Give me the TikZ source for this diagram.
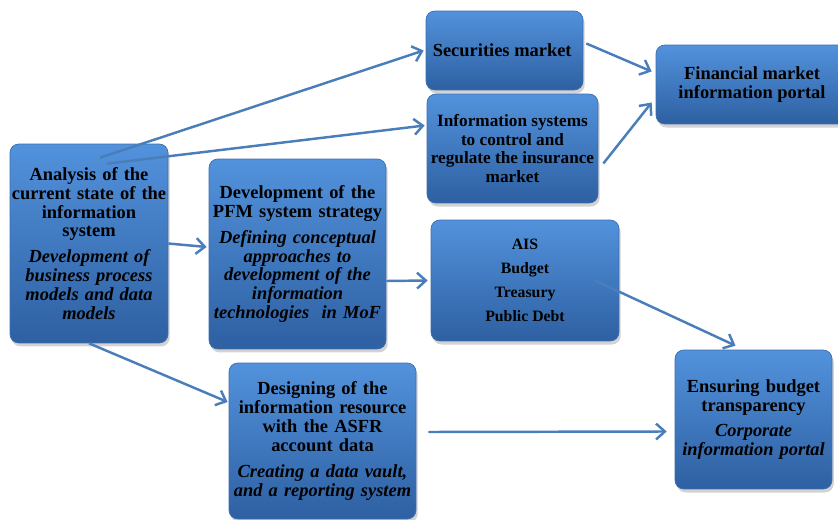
\documentclass[tikz,border=0pt]{standalone}
\usepackage{fontspec}
\setmainfont{Liberation Serif}
\usepackage{xcolor}
\usetikzlibrary{arrows.meta, positioning, shadows}

\definecolor{boxtop}{RGB}{82,146,220}
\definecolor{boxbottom}{RGB}{46,96,162}
\definecolor{boxline}{RGB}{60,110,175}
\definecolor{arrowblue}{RGB}{74,126,187}

\begin{document}
\begin{tikzpicture}[
    x=0.02cm, y=-0.02cm,
    block/.style={
        rectangle,
        rounded corners=5pt,
        draw=boxline,
        thin,
        top color=boxtop,
        bottom color=boxbottom,
        drop shadow={shadow xshift=1pt, shadow yshift=-2pt, opacity=0.35},
        align=center,
        inner sep=0pt,
        font=\fontsize{10.5}{10.7}\selectfont\bfseries
    },
    link/.style={
        -{Straight Barb[length=5pt, width=9pt]},
        draw=arrowblue,
        line width=1.4pt
    }
]
    \useasboundingbox (0,0) rectangle (838,520);

    % 1. Analysis (Left)
    \node (analysis) [block, minimum width=3.16cm, minimum height=3.98cm, text width=3.1cm] at (89,243.5) {
        Analysis of the\\
        current state of the\\
        information\\
        system\\[4pt]
        \itshape
        Development of\\
        business process\\
        models and data\\
        models
    };

    % 2. Strategy (Middle)
    \node (strategy) [block, minimum width=3.54cm, minimum height=3.80cm, text width=3.5cm] at (297.5,254) {
        Development of the\\
        PFM system strategy\\[4pt]
        \itshape
        Defining conceptual\\
        approaches to\\
        development of the\\
        information\\
        technologies~~in MoF
    };

    % 3. Securities (Top)
    \node (securities) [block, minimum width=3.14cm, minimum height=1.58cm] at (504.5,50.5) {
        Securities market
    };

    % 4. Insurance (Top)
    \node (insurance) [block, minimum width=3.42cm, minimum height=2.18cm,
        font=\fontsize{9.8}{10.7}\selectfont\bfseries] at (512.5,148.5) {
        Information systems\\
        to control and\\
        regulate the insurance\\
        market
    };

    % 5. Portal (Top Right)
    \node (portal) [block, minimum width=3.84cm, minimum height=1.58cm] at (752,84.5) {
        Financial market\\
        information portal
    };

    % 6. AIS (Middle Right)
    \node (ais) [block, minimum width=3.76cm, minimum height=2.42cm,
        font=\fontsize{9}{13.6}\selectfont\bfseries] at (525,280.5) {
        AIS\\
        Budget\\
        Treasury\\
        Public Debt
    };

    % 7. ASFR (Bottom)
    \node (asfr) [block, minimum width=3.74cm, minimum height=3.12cm, text width=3.7cm] at (322.5,441) {
        Designing of the\\
        information resource\\
        with the ASFR\\
        account data\\[4pt]
        \itshape
        Creating a data vault,\\
        and a reporting system
    };

    % 8. Transparency (Bottom Right)
    \node (transparency) [block, minimum width=3.14cm, minimum height=2.78cm, text width=3.1cm] at (753.5,419.5) {
        Ensuring budget\\
        transparency\\[4pt]
        \itshape
        Corporate\\
        information portal
    };

    % Relationships
    \draw[link] ([shift={(11,14)}]analysis.north) -- ([shift={(-2,0)}]securities.west);
    \draw[link] ([shift={(18,20)}]analysis.north) -- ([shift={(-2,-23)}]insurance.west);
    \draw[link] (analysis.east) -- ([shift={(-2,-7)}]strategy.west);
    \draw[link] (analysis.south) -- ([shift={(-1,-39)}]asfr.west);
    \draw[link] ([shift={(0,27)}]strategy.east) -- ([shift={(-3,0)}]ais.west);
    \draw[link] ([shift={(3,-7)}]securities.east) -- ([shift={(-4,-13)}]portal.west);
    \draw[link] ([shift={(5,15)}]insurance.east) -- ([shift={(-4,18)}]portal.west);
    \draw[link] ([shift={(70,0)}]ais.center) -- ([shift={(-18,-4)}]transparency.north);
    \draw[link] ([shift={(12,-9)}]asfr.east) -- ([shift={(-8,12)}]transparency.west);

\end{tikzpicture}
\end{document}
